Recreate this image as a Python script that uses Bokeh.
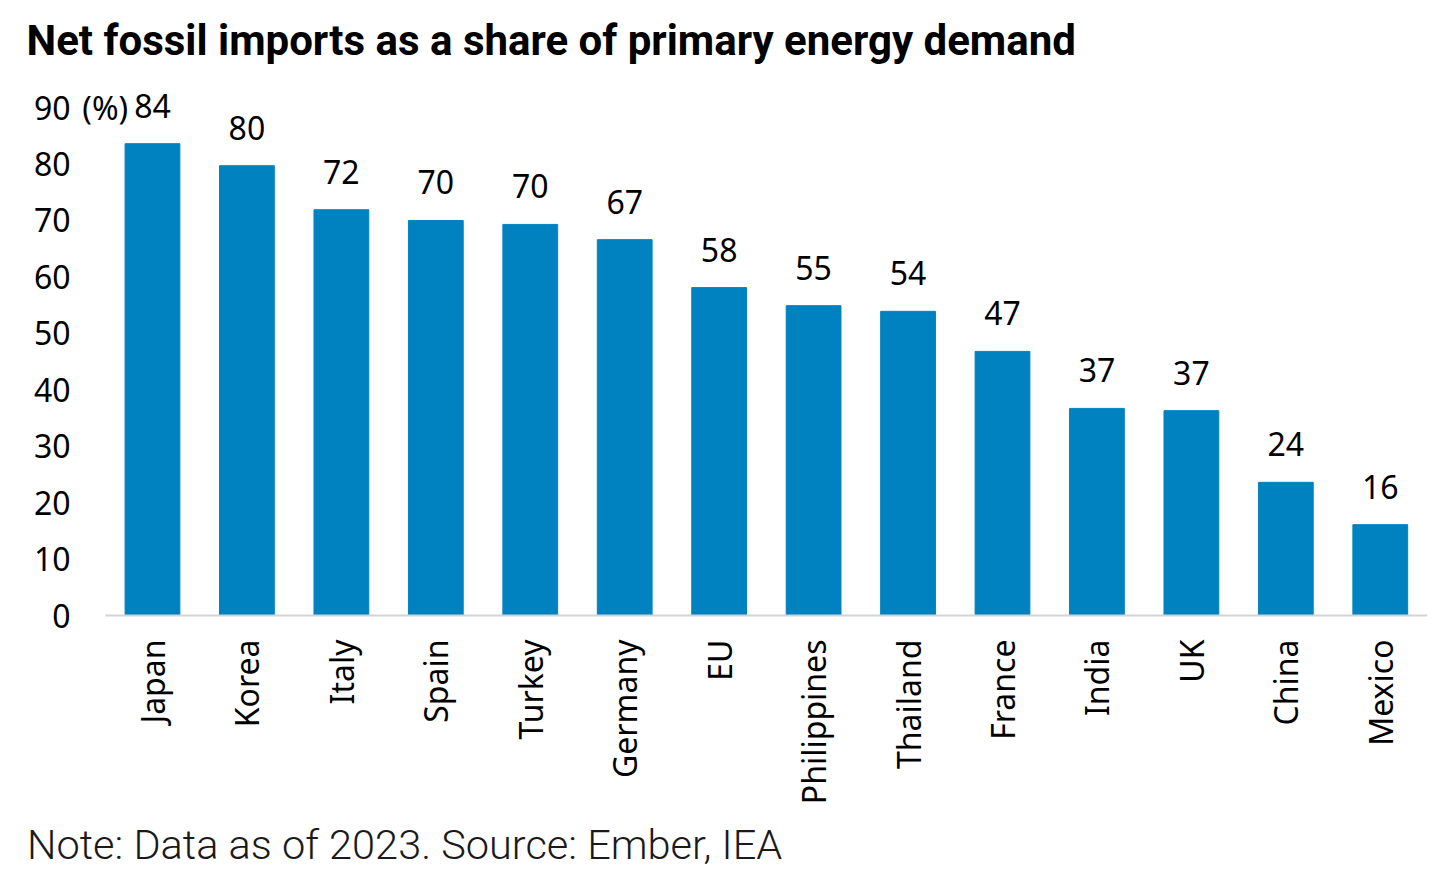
import math
from bokeh.plotting import figure
from bokeh.layouts import column
from bokeh.models import ColumnDataSource, FixedTicker, Range1d, Div
from bokeh.core.properties import value
from bokeh.embed import file_html
from bokeh.resources import INLINE

countries = ["Japan", "Korea", "Italy", "Spain", "Turkey", "Germany", "EU",
             "Philippines", "Thailand", "France", "India", "UK", "China", "Mexico"]
shares = [83.6, 79.7, 71.9, 70.0, 69.3, 66.6, 58.1, 54.9, 53.9, 46.8, 36.7, 36.3, 23.6, 16.1]
labels = ["84", "80", "72", "70", "70", "67", "58", "55", "54", "47", "37", "37", "24", "16"]
y_ticks = [0, 10, 20, 30, 40, 50, 60, 70, 80, 90]
unit_label = "(%)"

title_text = "Net fossil imports as a share of primary energy demand"
note_text = "Note: Data as of 2023. Source: Ember, IEA"

BAR = "#0082C0"
TICK_FONT = "Noto Sans"
FS = "32px"

idx = list(range(len(countries)))
src = ColumnDataSource(dict(i=idx, country=countries, share=shares, label=labels))

p = figure(x_range=Range1d(-0.815, len(countries) - 0.5),
           y_range=Range1d(-0.35, 96.57), width=1440, height=815,
           output_backend="svg", toolbar_location=None,
           min_border_left=75, min_border_right=13, min_border_top=70,
           min_border_bottom=198)

p.title.text = title_text
p.title.text_font = "Roboto"
p.title.text_font_style = "bold"
p.title.text_font_size = "42px"
p.title.text_color = "#000000"
p.title.offset = -49
p.title.standoff = 12

p.vbar(x="i", top="share", width=0.58, source=src, color=BAR, line_color=BAR)
p.text(x="i", y="share", text="label", source=src, text_align="center",
       text_baseline="alphabetic", y_offset=-38, text_font=value(TICK_FONT),
       text_font_size=FS, text_color="#000000")

# baseline (category axis line) spanning the category slots
p.segment(x0=[-0.5], x1=[len(countries) - 0.5], y0=[0], y1=[0],
          line_color="#D4D4D4", line_width=2)

# unit label next to the top tick
p.text(x=[-0.5], y=[y_ticks[-1]], text=[unit_label], text_align="center",
       text_baseline="middle", text_font=value(TICK_FONT), text_font_size=FS,
       text_color="#000000")

p.xgrid.visible = False
p.ygrid.visible = False
p.outline_line_color = None

p.yaxis.ticker = FixedTicker(ticks=y_ticks)
p.yaxis.axis_line_color = None
p.yaxis.major_tick_line_color = None
p.yaxis.minor_tick_line_color = None
p.yaxis.major_tick_out = 0
p.yaxis.major_label_standoff = 5
p.yaxis.major_label_text_font = TICK_FONT
p.yaxis.major_label_text_font_size = FS
p.yaxis.major_label_text_color = "#000000"

p.xaxis.ticker = FixedTicker(ticks=idx)
p.xaxis.major_label_overrides = {i: c for i, c in zip(idx, countries)}
p.xaxis.axis_line_color = None
p.xaxis.major_tick_line_color = None
p.xaxis.minor_tick_line_color = None
p.xaxis.major_tick_out = 0
p.xaxis.major_label_standoff = 22
p.xaxis.major_label_orientation = math.pi / 2
p.xaxis.major_label_text_font = TICK_FONT
p.xaxis.major_label_text_font_size = FS
p.xaxis.major_label_text_color = "#000000"

note = Div(text=note_text, width=1440, height=50, margin=(0, 0, 0, 0),
           styles={"font-family": "Roboto", "font-weight": "300",
                   "font-size": "41.5px", "line-height": "normal",
                   "color": "#1A1A1A", "white-space": "nowrap",
                   "box-sizing": "border-box", "padding": "5px 0 0 27px",
                   "margin": "0"})

layout = column(p, note, spacing=0)
open("out.html", "w").write(file_html(layout, INLINE))
